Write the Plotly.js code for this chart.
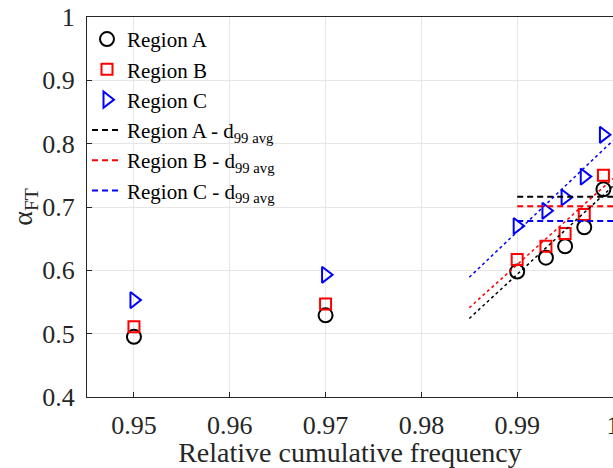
<!DOCTYPE html>
<html>
<head>
<meta charset="utf-8">
<script src="https://cdn.plot.ly/plotly-3.0.1.min.js"></script>
<style>html,body{margin:0;padding:0;background:#fff;}#chart{width:613px;height:468px;}</style>
</head>
<body>
<div id="chart"></div>
<script>
// Observed points
const freq = [0.95, 0.97, 0.99, 0.993, 0.995, 0.997, 0.999];
const regionA = [0.495, 0.529, 0.598, 0.620, 0.638, 0.668, 0.728];
const regionB = [0.511, 0.547, 0.617, 0.638, 0.658, 0.688, 0.750];
const regionC = [0.553, 0.593, 0.670, 0.694, 0.715, 0.748, 0.814];

// d99 average levels (horizontal dashed lines)
const avgX = [0.99, 1.0];
const avgA = [0.716, 0.716];
const avgB = [0.701, 0.701];
const avgC = [0.678, 0.678];

// Fitted trend lines (dotted)
const fitX = [0.985, 1.0];
const fitA = [0.524, 0.733];
const fitB = [0.541, 0.745];
const fitC = [0.589, 0.805];

const xTicks = [0.95, 0.96, 0.97, 0.98, 0.99, 1.0];
const xTickText = ['0.95', '0.96', '0.97', '0.98', '0.99', '1'];
const yTicks = [0.4, 0.5, 0.6, 0.7, 0.8, 0.9, 1.0];
const yTickText = ['0.4', '0.5', '0.6', '0.7', '0.8', '0.9', '1'];

const serif = '"Liberation Serif", "Times New Roman", serif';

const traces = [
  {x: freq, y: regionA, mode: 'markers', name: 'Region A',
   marker: {symbol: 'circle-open', size: 14, color: '#000', line: {width: 2, color: '#000'}}},
  {x: freq, y: regionB, mode: 'markers', name: 'Region B',
   marker: {symbol: 'square-open', size: 11, color: '#ff0000', line: {width: 2, color: '#ff0000'}}},
  {x: freq, y: regionC, mode: 'markers', name: 'Region C',
   marker: {symbol: 'triangle-right-open', size: 14, color: '#0000ff', line: {width: 2, color: '#0000ff'}}},
  {x: avgX, y: avgA, mode: 'lines', name: 'Region A - d<sub>99 avg</sub>',
   line: {color: '#000', width: 2, dash: '6px,4px'}},
  {x: avgX, y: avgB, mode: 'lines', name: 'Region B - d<sub>99 avg</sub>',
   line: {color: '#ff0000', width: 2, dash: '6px,4px'}},
  {x: avgX, y: avgC, mode: 'lines', name: 'Region C - d<sub>99 avg</sub>',
   line: {color: '#0000ff', width: 2, dash: '6px,4px'}},
  {x: fitX, y: fitA, mode: 'lines', showlegend: false,
   line: {color: '#000', width: 1.5, dash: 'dot'}},
  {x: fitX, y: fitB, mode: 'lines', showlegend: false,
   line: {color: '#ff0000', width: 1.5, dash: 'dot'}},
  {x: fitX, y: fitC, mode: 'lines', showlegend: false,
   line: {color: '#0000ff', width: 1.5, dash: 'dot'}}
];

const layout = {
  width: 613, height: 468,
  margin: {l: 87, r: 0, t: 17, b: 71},
  paper_bgcolor: '#fff', plot_bgcolor: '#fff',
  font: {family: serif, color: '#262626', size: 22},
  showlegend: true,
  legend: {x: 0.0, y: 0.995, xanchor: 'left', yanchor: 'top',
    bgcolor: 'rgba(255,255,255,0)', borderwidth: 0,
    font: {family: serif, size: 21, color: '#000'}, tracegroupgap: 0},
  xaxis: {range: [0.9451, 1.0], tickvals: xTicks, ticktext: xTickText,
    showgrid: true, gridcolor: '#e6e6e6', gridwidth: 1, zeroline: false,
    showline: true, linecolor: '#262626', linewidth: 1, mirror: true,
    ticks: 'inside', ticklen: 5, tickcolor: '#262626', ticklabelstandoff: 5,
    ticklabeloverflow: 'allow',
    tickfont: {family: serif, size: 26, color: '#262626'},
    title: {text: 'Relative cumulative frequency', font: {family: serif, size: 28, color: '#262626'}, standoff: 0}},
  yaxis: {range: [0.4, 1.0], tickvals: yTicks, ticktext: yTickText,
    showgrid: true, gridcolor: '#e6e6e6', gridwidth: 1, zeroline: false,
    showline: true, linecolor: '#262626', linewidth: 1, mirror: true,
    ticks: 'inside', ticklen: 5, tickcolor: '#262626', ticklabelstandoff: 6,
    tickfont: {family: serif, size: 26, color: '#262626'},
    title: {text: 'α<sub>FT</sub>', font: {family: serif, size: 28, color: '#262626'}, standoff: 0}}
};

Plotly.newPlot('chart', traces, layout, {displayModeBar: false, staticPlot: true});
</script>
</body>
</html>
